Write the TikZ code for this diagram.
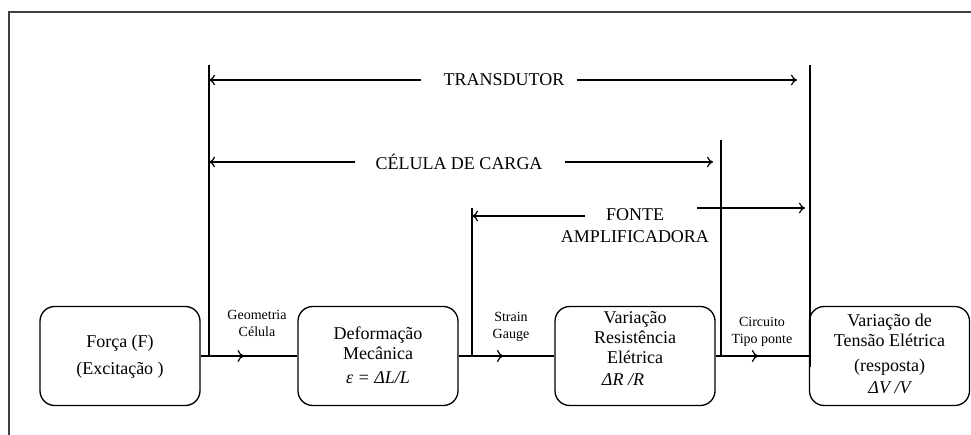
\documentclass[tikz,border=0pt]{standalone}
\usepackage{fontspec}
\setmainfont{Liberation Serif}
\usetikzlibrary{arrows.meta,decorations.markings}
\begin{document}
\begin{tikzpicture}[x=0.75pt,y=-0.75pt,
  box/.style={draw, line width=1pt, rounded corners=11pt, minimum width=120pt, minimum height=74.25pt, inner sep=0pt},
  txt/.style={font=\fontsize{13.5}{15}\selectfont, align=center, inner sep=0pt},
  lbl/.style={font=\fontsize{13.5}{16.5}\selectfont, align=center, inner sep=0pt},
  small/.style={font=\fontsize{10.5}{13}\selectfont, align=center, inner sep=0pt},
  ln/.style={line width=0.9pt},
  arr/.style={ln, -{To[length=4.5pt,width=8pt]}},
  flow/.style={ln, postaction=decorate, decoration={markings, mark=at position #1 with {\arrow{To[length=5pt,width=9pt]}}}},
]
\useasboundingbox (0,0) rectangle (971,435);
\draw[line width=1.1pt, black!75] (9,435) -- (9,12) -- (971,12);

% boxes
\node[box] (b1) at (120,356) {};
\node[box] (b2) at (378,356) {};
\node[box] (b3) at (635,356) {};
\node[box] (b4) at (889.5,356) {};

\node[txt] (t1) at (120,356.5) {Força (F)\\[5pt](Excitação )};
\node[txt] (t2) at (378,355) {Deformação\\Mecânica\\[3pt]{\itshape ε = ΔL/L}};
\node[txt] (t3) at (635,349) {Variação\\Resistência\\Elétrica\\[1.5pt]{\itshape ΔR /R}\hspace*{18pt}};
\node[txt] (t4) at (889.5,354) {Variação de\\Tensão Elétrica\\[3.75pt](resposta)\\[2pt]{\itshape ΔV /V}};

% small labels
\node[small] (gc) at (257,323.5) {Geometria\\Célula};
\node[small] (sg) at (511,327) {Strain\\Gauge};
\node[small] (ct) at (762,332) {Circuito\\Tipo ponte};

% flow connectors
\draw[flow=0.45] (b1.east) -- (b2.west);
\draw[flow=0.47] (b2.east) -- (b3.west);
\draw[flow=0.46] (b3.east) -- (b4.west);

% vertical lines
\coordinate (v1t) at (209,65);
\coordinate (v2t) at (472,208);
\coordinate (v3t) at (721,140);
\coordinate (v4t) at (810,65);
\coordinate (v4b) at (810,367);
\draw[ln] (v1t) -- (v1t |- b1.east);
\draw[ln] (v2t) -- (v2t |- b2.east);
\draw[ln] (v3t) -- (v3t |- b3.east);
\draw[ln] (v4t) -- (v4b);

% TRANSDUTOR
\node[lbl] (tr) at (504,80) {TRANSDUTOR};
\coordinate (trL) at (209,80);
\coordinate (trR) at (797,80);
\draw[arr] ([xshift=-17pt]tr.west) -- (trL);
\draw[arr] ([xshift=9pt]tr.east) -- (trR);

% CELULA DE CARGA
\node[lbl] (cc) at (459,162) {CÉLULA DE CARGA};
\coordinate (ccL) at (209,162);
\coordinate (ccR) at (713,162);
\draw[arr] ([xshift=-15pt]cc.west) -- (ccL);
\draw[arr] ([xshift=17pt]cc.east) -- (ccR);

% FONTE AMPLIFICADORA
\node[lbl] (fa) at (635,226) {FONTE\\AMPLIFICADORA};
\coordinate (faL0) at (585,216);
\coordinate (faL) at (472,216);
\coordinate (faR0) at (697,208);
\coordinate (faR) at (805,208);
\draw[arr] (faL0) -- (faL);
\draw[arr] (faR0) -- (faR);
\end{tikzpicture}
\end{document}
